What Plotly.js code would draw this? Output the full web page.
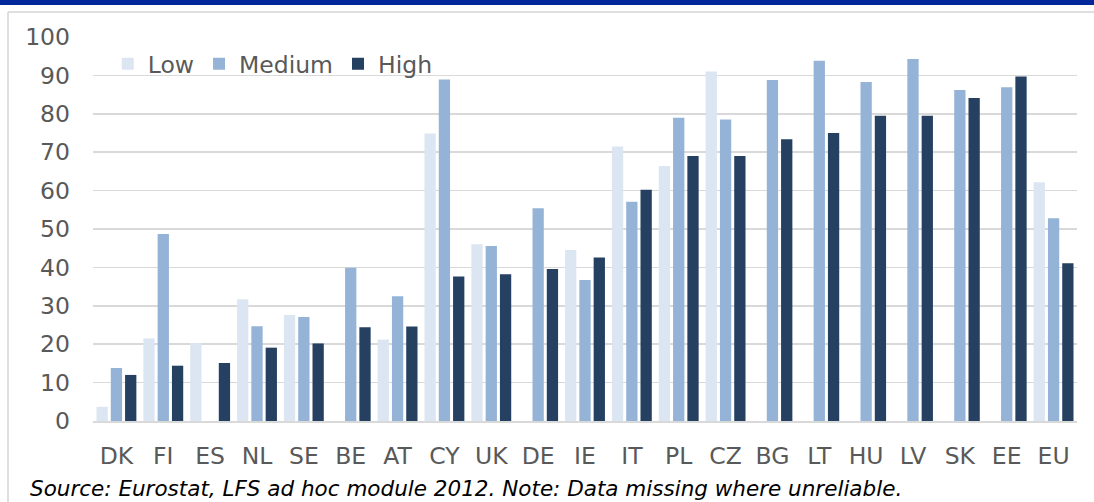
<!DOCTYPE html>
<html>
<head>
<meta charset="utf-8">
<script src="https://cdn.plot.ly/plotly-3.0.1.min.js"></script>
<style>
  html, body { margin: 0; padding: 0; background: #ffffff; }
  #chart { width: 1094px; height: 502px; }
</style>
</head>
<body>
<div id="chart"></div>
<script>
// Countries ordered by share of high-skilled workers
const countries = ["DK", "FI", "ES", "NL", "SE", "BE", "AT", "CY", "UK", "DE", "IE",
                   "IT", "PL", "CZ", "BG", "LT", "HU", "LV", "SK", "EE", "EU"];

// Shares (%) by education level; null = unreliable, not shown
const lowValues    = [3.7, 21.5, 20.3, 31.7, 27.6, null, 21.2, 74.9, 46.0, null, 44.5,
                      71.5, 66.4, 91.0, null, null, null, null, null, null, 62.2];
const mediumValues = [13.8, 48.7, null, 24.7, 27.1, 39.9, 32.5, 88.9, 45.6, 55.4, 36.7,
                      57.1, 79.0, 78.5, 88.8, 93.8, 88.3, 94.3, 86.2, 86.9, 52.8];
const highValues   = [12.0, 14.4, 15.1, 19.1, 20.2, 24.4, 24.6, 37.6, 38.2, 39.6, 42.6,
                      60.2, 69.0, 69.0, 73.4, 75.0, 79.5, 79.5, 84.1, 89.7, 41.1];

const seriesNames  = ["Low", "Medium", "High"];
const seriesColors = ["#dce6f2", "#95b3d7", "#254061"];
const yTicks = [0, 10, 20, 30, 40, 50, 60, 70, 80, 90, 100];

const seriesValues = [lowValues, mediumValues, highValues];
const traces = seriesValues.map((vals, i) => ({
  type: "bar",
  name: seriesNames[i],
  x: countries,
  y: vals,
  marker: { color: seriesColors[i], line: { width: 0 } },
  hoverinfo: "x+y+name"
}));

const font = { family: "DejaVu Sans, Verdana, sans-serif", size: 23.5, color: "#595959" };

const layout = {
  width: 1094,
  height: 502,
  margin: { l: 93, r: 17, t: 37, b: 81, pad: 0 },
  paper_bgcolor: "#ffffff",
  plot_bgcolor: "#ffffff",
  font: font,
  barmode: "group",
  bargap: 0.085,
  bargroupgap: 0.21,
  showlegend: true,
  legend: {
    orientation: "h",
    x: 0.015,
    xanchor: "left",
    y: 0.93,
    yanchor: "middle",
    bgcolor: "rgba(0,0,0,0)",
    itemgap: 0,
    traceorder: "normal",
    font: font
  },
  xaxis: {
    type: "category",
    showgrid: false,
    showline: true,
    linecolor: "#d9d9d9",
    linewidth: 1.5,
    ticks: "",
    ticklabelstandoff: 13,
    tickfont: font,
    fixedrange: true
  },
  yaxis: {
    range: [0, 100],
    tickvals: yTicks,
    ticktext: yTicks.map(String),
    showgrid: true,
    gridcolor: "#d9d9d9",
    gridwidth: 1.5,
    zeroline: false,
    showline: false,
    ticks: "",
    ticklabelstandoff: 22,
    tickfont: font,
    fixedrange: true
  },
  shapes: [
    // header band
    { type: "rect", xref: "paper", yref: "paper",
      xsizemode: "pixel", xanchor: 0, x0: -93, x1: 1001,
      ysizemode: "pixel", yanchor: 1, y0: 32, y1: 40,
      fillcolor: "#00289a", line: { width: 0 }, layer: "above" },
    // frame: top edge
    { type: "line", xref: "paper", yref: "paper",
      xsizemode: "pixel", xanchor: 0, x0: -85, x1: 1010,
      ysizemode: "pixel", yanchor: 1, y0: 25, y1: 25,
      line: { color: "#d4d4d4", width: 1.5 } },
    // frame: left edge
    { type: "line", xref: "paper", yref: "paper",
      xsizemode: "pixel", xanchor: 0, x0: -85, x1: -85,
      ysizemode: "pixel", yanchor: 0, y0: 409, y1: -90,
      line: { color: "#d4d4d4", width: 1.5 } }
  ],
  annotations: [
    { xref: "paper", yref: "paper", x: 0, y: 0,
      xanchor: "left", yanchor: "top",
      xshift: -65, yshift: -53,
      showarrow: false,
      text: "Source: Eurostat, LFS ad hoc module 2012. Note: Data missing where unreliable.",
      font: { family: "DejaVu Sans, Verdana, sans-serif", size: 21.5, color: "#000000", style: "italic" } }
  ]
};

Plotly.newPlot("chart", traces, layout, { displayModeBar: false, staticPlot: true });
</script>
</body>
</html>
